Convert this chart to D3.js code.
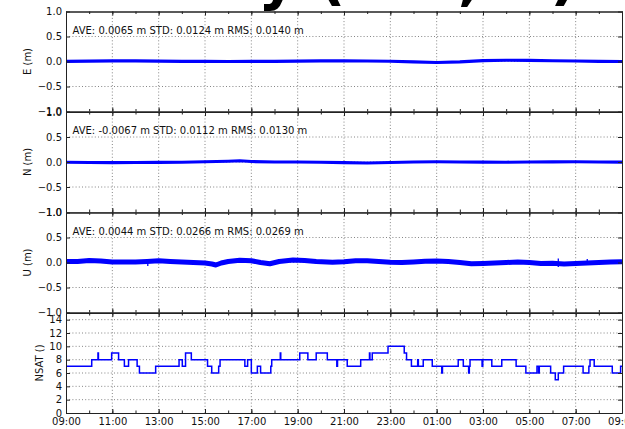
<!DOCTYPE html>
<html><head><meta charset="utf-8">
<script src="https://cdn.jsdelivr.net/npm/d3@7"></script>
<style>
body{margin:0;background:#fff;overflow:hidden;}
svg{display:block;font-family:"DejaVu Sans",sans-serif;}
</style>
</head><body>
<svg id="chart" width="625" height="429"></svg>
<script>
// ---------- data ----------
const titleText = "Position Accuracy (1 D, U)";
const panelLabels = ["E (m)", "N (m)", "U (m)", "NSAT ()"];
const statTexts = [
  "AVE: 0.0065 m STD: 0.0124 m RMS: 0.0140 m",
  "AVE: -0.0067 m STD: 0.0112 m RMS: 0.0130 m",
  "AVE: 0.0044 m STD: 0.0266 m RMS: 0.0269 m"
];
const enuTicks = [-1.0, -0.5, 0.0, 0.5, 1.0];
const nsatTicks = [0, 2, 4, 6, 8, 10, 12, 14];

// hours since 09:00
const eHours  = [0,1,2,3,4,5,6,7,8,9,10,11,12,13,14,15,16,17,18,19,20,21,22,23,24];
const eValues = [0.003,0.006,0.012,0.012,0.008,0.004,0.002,0.0,0.002,0.004,0.006,0.012,0.014,0.01,0.005,-0.008,-0.02,-0.008,0.018,0.025,0.022,0.015,0.01,0.004,0.0];

const nHours  = [0,1,2,3,4,5,6,7,7.5,8,9,10,11,12,13,14,15,16,17,18,19,20,21,22,23,24];
const nValues = [-0.005,-0.01,-0.012,-0.01,-0.008,-0.005,0.005,0.015,0.025,0.01,0.0,0.0,-0.005,-0.012,-0.02,-0.01,0.0,0.005,0.0,-0.003,-0.005,0.0,0.003,0.005,0.0,-0.003];

const uHours  = [0,0.5,1,1.5,2,3,3.5,4,4.5,5,5.5,6,6.3,6.47,6.7,7,7.5,8,8.4,8.8,9.2,9.8,10.3,10.8,11.5,12,12.5,13,13.5,14,14.5,15,15.5,16,16.5,17,17.5,18,18.5,19,19.5,20,20.5,21,21.5,22,22.5,23,23.5,24];
const uValues = [0.02,0.02,0.04,0.03,0.01,0.01,0.02,0.035,0.02,0.01,0.0,-0.01,-0.03,-0.05,-0.01,0.02,0.045,0.035,0.0,-0.025,0.02,0.05,0.04,0.02,0.005,0.015,0.035,0.035,0.02,0.005,0.0,0.01,0.025,0.03,0.02,0.0,-0.025,-0.02,-0.01,0.0,0.01,0.0,-0.02,-0.015,-0.03,-0.02,-0.01,0.0,0.01,0.015];
// short outliers in U
const uSpikeHours = [3.53, 21.25, 22.5];
const uSpikeLow   = [-0.07, -0.09, -0.01];
const uSpikeHigh  = [0.01, 0.08, 0.07];

const nsatHours  = [0,1.11,1.38,1.40,1.97,2.27,2.52,2.70,3.07,3.17,3.87,4.88,5.02,5.16,5.41,6.11,6.29,6.59,6.65,7.72,7.84,8.0,8.26,8.40,8.84,8.88,9.25,9.27,10.09,10.44,10.80,11.28,11.69,11.72,12.14,12.72,13.10,13.12,13.22,13.90,14.60,14.70,14.91,15.18,15.21,15.42,15.81,16.22,16.25,16.93,17.15,17.38,17.41,17.44,17.96,17.99,18.38,18.81,19.43,19.85,20.33,20.40,20.43,20.92,21.12,21.25,21.48,22.32,22.57,22.62,22.80,23.58,23.94,24];
const nsatValues = [7,8,9,8,9,8,7,8,7,6,7,8,7,9,8,7,6,7,8,7,8,6,7,6,7,8,9,8,9,8,9,8,7,8,7,8,9,8,9,10,9,8,7,8,7,8,7,6,7,8,7,6,7,8,7,8,7,8,7,6,7,6,7,6,5,6,7,6,7,8,7,6,7,7];

// ---------- layout ----------
const svg = d3.select("#chart");
const left = 66, right = 622;
const panelTops = [11.5, 112, 212.5, 313];
const panelH = 100;
const t0 = new Date(2016, 0, 1, 9, 0, 0);
const toDate = h => new Date(t0.getTime() + h * 3600e3);
const x = d3.scaleTime().domain([t0, toDate(24)]).range([left, right]);
const majorTicks = d3.range(0, 25, 2).map(toDate);
const minorTicks = d3.range(0, 25, 1).map(toDate);
const fmtTime = d3.timeFormat("%H:%M");
const fmtY = d3.format(".1f");

// title (large, mostly above the picture; drawn first so the panels cover it)
const title = svg.append("text")
  .attr("y", -2).attr("font-size", 60).attr("font-weight", "bold").attr("fill", "#000")
  .text(titleText);
const tnode = title.node();
const pIdx = titleText.indexOf("(");
title.attr("x", 318 - tnode.getSubStringLength(0, pIdx));

const series = [
  {hours: eHours, values: eValues, width: 3.2},
  {hours: nHours, values: nValues, width: 3.2},
  {hours: uHours, values: uValues, width: 5}
];

const defs = svg.append("defs");

panelTops.forEach((top, i) => {
  const isNsat = i === 3;
  const y = d3.scaleLinear()
    .domain(isNsat ? [0, 15] : [-1, 1])
    .range([top + panelH, top]);
  const yTicks = isNsat ? nsatTicks : enuTicks;
  const g = svg.append("g");

  g.append("rect").attr("x", left).attr("y", top).attr("width", right - left).attr("height", panelH).attr("fill", "#fff");

  defs.append("clipPath").attr("id", "clip" + i)
    .append("rect").attr("x", left).attr("y", top).attr("width", right - left).attr("height", panelH);

  // grid
  const grid = g.append("g").attr("stroke", "#666").attr("stroke-width", 0.8).attr("stroke-dasharray", "1,2.2");
  grid.selectAll("line.v").data(majorTicks.slice(1, -1)).join("line")
    .attr("x1", d => x(d)).attr("x2", d => x(d)).attr("y1", top).attr("y2", top + panelH);
  grid.selectAll("line.h").data(yTicks.filter(v => y(v) > top + 1 && y(v) < top + panelH - 1)).join("line")
    .attr("x1", left).attr("x2", right).attr("y1", d => y(d)).attr("y2", d => y(d));

  // data
  const dg = g.append("g").attr("clip-path", `url(#clip${i})`);
  if (!isNsat) {
    const s = series[i];
    const pts = s.hours.map((h, k) => [toDate(h), s.values[k]]);
    dg.append("path").datum(pts)
      .attr("fill", "none").attr("stroke", "#0000ff").attr("stroke-width", s.width)
      .attr("stroke-linejoin", "round")
      .attr("d", d3.line().x(d => x(d[0])).y(d => y(d[1])));
    if (i === 2) {
      dg.selectAll("line.spike").data(uSpikeHours).join("line")
        .attr("stroke", "#0000ff").attr("stroke-width", 1.3)
        .attr("x1", d => x(toDate(d))).attr("x2", d => x(toDate(d)))
        .attr("y1", (d, k) => y(uSpikeLow[k])).attr("y2", (d, k) => y(uSpikeHigh[k]));
    }
  } else {
    const pts = nsatHours.map((h, k) => [toDate(h), nsatValues[k]]);
    dg.append("path").datum(pts)
      .attr("fill", "none").attr("stroke", "#0000ff").attr("stroke-width", 1.5)
      .attr("d", d3.line().curve(d3.curveStepAfter).x(d => x(d[0])).y(d => y(d[1])));
  }

  // axes (inward ticks)
  const styleAxis = sel => {
    sel.selectAll("path.domain").attr("stroke", "#222").attr("stroke-width", 1);
    sel.selectAll(".tick line").attr("stroke", "#222").attr("stroke-width", 1);
    sel.selectAll("text").attr("fill", "#111").style("font-family", '"DejaVu Sans",sans-serif').style("font-size", "10px");
  };
  const bottom = g.append("g").attr("transform", `translate(0,${top + panelH})`)
    .call(d3.axisBottom(x).tickValues(majorTicks).tickSizeInner(-4).tickSizeOuter(0).tickPadding(5)
      .tickFormat(isNsat ? fmtTime : () => ""));
  styleAxis(bottom);
  const bottomMinor = g.append("g").attr("transform", `translate(0,${top + panelH})`)
    .call(d3.axisBottom(x).tickValues(minorTicks).tickSizeInner(-2.5).tickSizeOuter(0).tickFormat(() => ""));
  styleAxis(bottomMinor);
  const topAx = g.append("g").attr("transform", `translate(0,${top})`)
    .call(d3.axisTop(x).tickValues(majorTicks).tickSizeInner(-4).tickSizeOuter(0).tickFormat(() => ""));
  styleAxis(topAx);
  const topMinor = g.append("g").attr("transform", `translate(0,${top})`)
    .call(d3.axisTop(x).tickValues(minorTicks).tickSizeInner(-2.5).tickSizeOuter(0).tickFormat(() => ""));
  styleAxis(topMinor);
  const leftAx = g.append("g").attr("transform", `translate(${left},0)`)
    .call(d3.axisLeft(y).tickValues(yTicks).tickSizeInner(-4).tickSizeOuter(0).tickPadding(4)
      .tickFormat(isNsat ? d3.format("d") : fmtY));
  styleAxis(leftAx);
  const rightAx = g.append("g").attr("transform", `translate(${right},0)`)
    .call(d3.axisRight(y).tickValues(yTicks).tickSizeInner(-4).tickSizeOuter(0).tickFormat(() => ""));
  styleAxis(rightAx);

  // y label
  svg.append("text")
    .attr("transform", `translate(${isNsat ? 39 : 27.5},${top + panelH / 2}) rotate(-90)`)
    .attr("text-anchor", "middle").attr("dy", "0.35em")
    .attr("font-size", 10).attr("fill", "#111")
    .text(panelLabels[i]);

  // stats
  if (!isNsat) {
    svg.append("text").attr("x", left + 6.5).attr("y", top + 22.3)
      .attr("font-size", 10).attr("fill", "#111")
      .text(statTexts[i]);
  }
});
</script>
</body></html>
